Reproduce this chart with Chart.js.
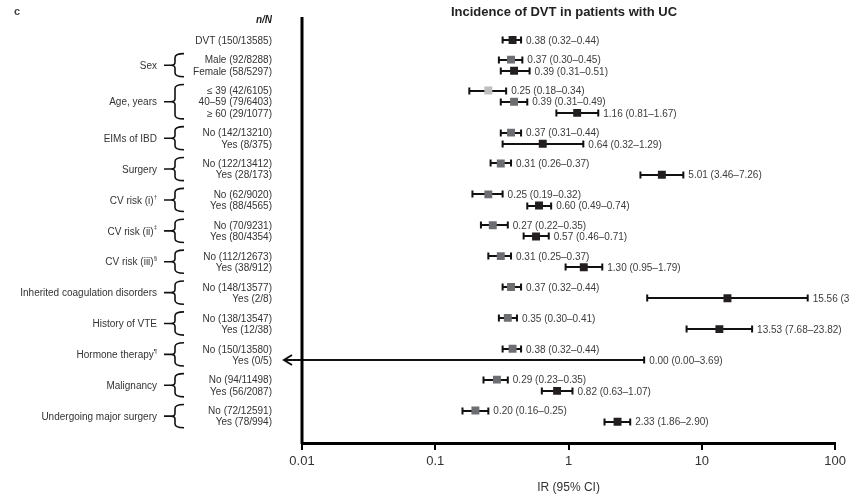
<!DOCTYPE html>
<html>
<head>
<meta charset="utf-8">
<script src="https://cdn.jsdelivr.net/npm/chart.js@4.4.1/dist/chart.umd.min.js"></script>
<style>
  html, body { margin: 0; padding: 0; background: #fff; }
  #wrap { width: 850px; height: 497px; }
</style>
</head>
<body>
<div id="wrap"><canvas id="forest"></canvas></div>
<script>
// data
var groupNames = ['', 'Sex', 'Age, years', 'EIMs of IBD', 'Surgery', 'CV risk (i)', 'CV risk (ii)', 'CV risk (iii)',
  'Inherited coagulation disorders', 'History of VTE', 'Hormone therapy', 'Malignancy', 'Undergoing major surgery'];
var groupMarks = ['', '', '', '', '', '\u2020', '\u2021', '\u00a7', '', '', '\u00b6', '', ''];
var rowLabels = ['DVT (150/13585)', 'Male (92/8288)', 'Female (58/5297)', '\u2264 39 (42/6105)', '40\u201359 (79/6403)',
  '\u2265 60 (29/1077)', 'No (142/13210)', 'Yes (8/375)', 'No (122/13412)', 'Yes (28/173)', 'No (62/9020)',
  'Yes (88/4565)', 'No (70/9231)', 'Yes (80/4354)', 'No (112/12673)', 'Yes (38/912)', 'No (148/13577)', 'Yes (2/8)',
  'No (138/13547)', 'Yes (12/38)', 'No (150/13580)', 'Yes (0/5)', 'No (94/11498)', 'Yes (56/2087)',
  'No (72/12591)', 'Yes (78/994)'];
var rowGroup = [0, 1, 1, 2, 2, 2, 3, 3, 4, 4, 5, 5, 6, 6, 7, 7, 8, 8, 9, 9, 10, 10, 11, 11, 12, 12];
var irValues = [0.38, 0.37, 0.39, 0.25, 0.39, 1.16, 0.37, 0.64, 0.31, 5.01, 0.25, 0.60, 0.27, 0.57, 0.31, 1.30,
  0.37, 15.56, 0.35, 13.53, 0.38, 0.00, 0.29, 0.82, 0.20, 2.33];
var ciLower = [0.32, 0.30, 0.31, 0.18, 0.31, 0.81, 0.31, 0.32, 0.26, 3.46, 0.19, 0.49, 0.22, 0.46, 0.25, 0.95,
  0.32, 3.89, 0.30, 7.68, 0.32, 0.00, 0.23, 0.63, 0.16, 1.86];
var ciUpper = [0.44, 0.45, 0.51, 0.34, 0.49, 1.67, 0.44, 1.29, 0.37, 7.26, 0.32, 0.74, 0.35, 0.71, 0.37, 1.79,
  0.44, 62.22, 0.41, 23.82, 0.44, 3.69, 0.35, 1.07, 0.25, 2.90];
var tickValues = [0.01, 0.1, 1, 10, 100];
var tickLabels = ['0.01', '0.1', '1', '10', '100'];

// styling
var markerShade = ['k', 'm', 'k', 'l', 'm', 'k', 'm', 'k', 'm', 'k', 'm', 'k', 'm', 'k', 'm', 'k', 'm', 'k',
  'm', 'k', 'm', 'k', 'm', 'k', 'm', 'k'];
var shadeColor = { k: '#231f20', m: '#6d6e71', l: '#bcbec0' };
var FONT = '"Liberation Sans", Arial, sans-serif';
var GROUP_GAP = 0.76;

// vertical slot of each row: one unit per row plus an extra gap between groups
function rowY(i) { return i + rowGroup[i] * GROUP_GAP; }

var points = [];
for (var i = 0; i < irValues.length; i++) {
  if (irValues[i] > 0) points.push({ x: irValues[i], y: rowY(i), shade: markerShade[i] });
}

var forestPlugin = {
  id: 'forest',
  beforeDatasetsDraw: function(chart) {
    var ctx = chart.ctx, xs = chart.scales.x, ys = chart.scales.y, area = chart.chartArea;
    ctx.save();
    ctx.strokeStyle = '#111';
    ctx.lineWidth = 2;
    for (var i = 0; i < irValues.length; i++) {
      var y = Math.round(ys.getPixelForValue(rowY(i)));
      var x2 = xs.getPixelForValue(ciUpper[i]);
      var x1 = ciLower[i] > 0 ? xs.getPixelForValue(ciLower[i]) : area.left - 18;
      ctx.beginPath();
      ctx.moveTo(x1, y); ctx.lineTo(x2, y);
      ctx.moveTo(x2, y - 3.5); ctx.lineTo(x2, y + 3.5);
      if (ciLower[i] > 0) {
        ctx.moveTo(x1, y - 3.5); ctx.lineTo(x1, y + 3.5);
      } else {
        // zero lower bound cannot sit on a log axis: arrow past the axis
        ctx.moveTo(x1 + 8, y - 5); ctx.lineTo(x1, y); ctx.lineTo(x1 + 8, y + 5);
      }
      ctx.stroke();
    }
    ctx.restore();
  },
  afterDatasetsDraw: function(chart) {
    var ctx = chart.ctx, xs = chart.scales.x, ys = chart.scales.y, area = chart.chartArea;
    ctx.save();

    // left axis line
    ctx.strokeStyle = '#000';
    ctx.lineWidth = 3;
    ctx.beginPath();
    ctx.moveTo(area.left, area.top);
    ctx.lineTo(area.left, area.bottom + 1);
    ctx.stroke();

    // value labels
    ctx.font = '10px ' + FONT;
    ctx.fillStyle = '#3c3c3c';
    ctx.textAlign = 'left';
    ctx.textBaseline = 'middle';
    for (var i = 0; i < irValues.length; i++) {
      var y = ys.getPixelForValue(rowY(i));
      var txt = irValues[i].toFixed(2) + ' (' + ciLower[i].toFixed(2) + '\u2013' + ciUpper[i].toFixed(2) + ')';
      ctx.fillText(txt, xs.getPixelForValue(ciUpper[i]) + 5, y + 1);
    }

    // row labels
    ctx.textAlign = 'right';
    ctx.fillStyle = '#333';
    for (var i = 0; i < rowLabels.length; i++) {
      ctx.fillText(rowLabels[i], 272, ys.getPixelForValue(rowY(i)) + 1);
    }

    // group labels and braces
    for (var g = 1; g < groupNames.length; g++) {
      var first = rowGroup.indexOf(g), last = rowGroup.lastIndexOf(g);
      var yt = ys.getPixelForValue(rowY(first)) - 6;
      var yb = ys.getPixelForValue(rowY(last)) + 6;
      var ym = (yt + yb) / 2;
      ctx.font = '10px ' + FONT;
      ctx.fillStyle = '#333';
      ctx.textAlign = 'right';
      var markW = 0;
      if (groupMarks[g]) {
        ctx.font = '6px ' + FONT;
        markW = ctx.measureText(groupMarks[g]).width;
        ctx.fillText(groupMarks[g], 157, ym - 3);
        ctx.font = '10px ' + FONT;
      }
      ctx.fillText(groupNames[g], 157 - markW, ym + 1);

      ctx.strokeStyle = '#111';
      ctx.lineWidth = 1.6;
      var xs0 = 164, xc = 175, xr = 184;
      ctx.beginPath();
      ctx.moveTo(xr, yt);
      ctx.quadraticCurveTo(xc, yt, xc, yt + 4);
      ctx.lineTo(xc, ym - 3);
      ctx.quadraticCurveTo(xc, ym, xc - 4, ym);
      ctx.lineTo(xs0, ym);
      ctx.moveTo(xc - 4, ym);
      ctx.quadraticCurveTo(xc, ym, xc, ym + 3);
      ctx.lineTo(xc, yb - 4);
      ctx.quadraticCurveTo(xc, yb, xr, yb);
      ctx.stroke();
    }

    // headers
    ctx.fillStyle = '#222';
    ctx.textAlign = 'right';
    ctx.font = 'italic bold 10px ' + FONT;
    ctx.fillText('n/N', 272, 20);
    ctx.textAlign = 'left';
    ctx.font = 'bold 11px ' + FONT;
    ctx.fillStyle = '#444';
    ctx.fillText('c', 14, 12);
    ctx.textAlign = 'center';
    ctx.font = 'bold 13px ' + FONT;
    ctx.fillStyle = '#222';
    ctx.fillText('Incidence of DVT in patients with UC', 564, 12);
    ctx.restore();
  }
};

var chart = new Chart(document.getElementById('forest'), {
  type: 'scatter',
  data: {
    datasets: [{
      data: points,
      pointStyle: 'rect',
      pointRadius: 5.6,
      pointHoverRadius: 5.6,
      borderWidth: 0,
      backgroundColor: function(c) { return c.raw ? shadeColor[c.raw.shade] : '#000'; }
    }]
  },
  options: {
    responsive: true,
    maintainAspectRatio: false,
    animation: false,
    layout: { padding: { left: 302, right: 11, top: 17, bottom: 0 } },
    plugins: { legend: { display: false }, tooltip: { enabled: false } },
    scales: {
      x: {
        type: 'logarithmic',
        min: 0.01,
        max: 100,
        afterBuildTicks: function(s) { s.ticks = tickValues.map(function(v) { return { value: v }; }); },
        afterFit: function(s) { s.height = 54; },
        border: { display: true, color: '#000', width: 3 },
        grid: { drawOnChartArea: false, color: '#000', tickLength: 7, lineWidth: 2 },
        ticks: {
          autoSkip: false,
          maxRotation: 0,
          color: '#333',
          padding: 4,
          font: { family: FONT, size: 13 },
          callback: function(v) {
            var k = tickValues.indexOf(v);
            return k >= 0 ? tickLabels[k] : '';
          }
        },
        title: {
          display: true,
          text: 'IR (95% CI)',
          color: '#333',
          font: { family: FONT, size: 12 },
          padding: { top: 6, bottom: 2 }
        }
      },
      y: {
        type: 'linear',
        display: false,
        reverse: true,
        min: -2.05,
        max: 36.02
      }
    }
  },
  plugins: [forestPlugin]
});
</script>
</body>
</html>
